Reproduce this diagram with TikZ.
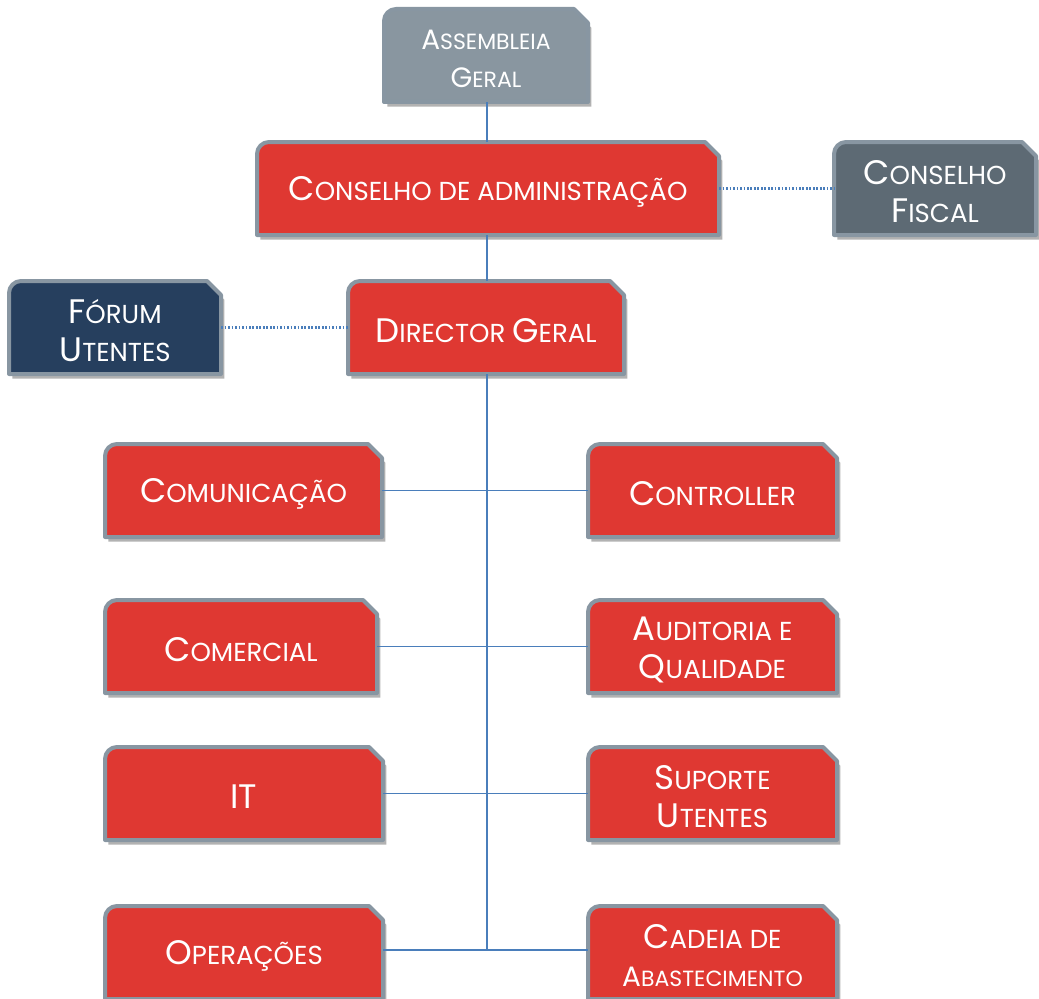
\documentclass[tikz,border=0pt]{standalone}
\usepackage{fontspec}
\setmainfont{Poppins}
\usetikzlibrary{shadows}

\definecolor{boxred}{HTML}{DF3832}
\definecolor{boxedge}{HTML}{8896A2}
\definecolor{agray}{HTML}{8996A0}
\definecolor{fgray}{HTML}{5D6A74}
\definecolor{navy}{HTML}{263F5E}
\definecolor{linkblue}{HTML}{4A7EBB}

% small-caps imitation: large initial, smaller remainder
\newcommand\sct[2]{{\fontsize{25.5}{28.5}\selectfont #1}{\fontsize{19.5}{28.5}\selectfont #2}}
\newcommand\scs[2]{{\fontsize{21}{24}\selectfont #1}{\fontsize{16.5}{24}\selectfont #2}}

% box outline: rounded top-left, clipped top-right; the node is the box,
% its caption sits slightly below the geometric centre
\newcommand\orgbox[7]{%
  \path[boxshape, fill=#6] (#2,#5) [rounded corners=9pt] -- (#2,#3) [sharp corners]
     -- ({#4-14},#3) -- (#4,{#3+14}) -- (#4,#5) -- cycle;
  \node[inner sep=0pt, minimum width={(#4-#2)*0.75pt}, minimum height={(#5-#3)*0.75pt},
     label={[boxtext]center:#7}]
     (#1) at ({(#2+#4)/2},{(#3+#5)/2}) {};
}

\tikzset{
  boxshape/.style={draw=boxedge, line width=3pt, line join=round,
    drop shadow={shadow xshift=2.5pt, shadow yshift=-3.5pt, opacity=0.3, fill=black}},
  boxtext/.style={text=white, align=center, inner sep=0pt, yshift=-2.5pt,
    font=\fontsize{19.5}{28.5}\selectfont},
  conn/.style={draw=linkblue, line width=1.4pt},
  dotconn/.style={draw=linkblue, line width=1.8pt, dash pattern=on 1.3pt off 1.3pt},
}

\begin{document}
\begin{tikzpicture}[x=0.75pt, y=-0.75pt]
\useasboundingbox (0,0) rectangle (1039,999);

\orgbox{ag}{384}{9}{588}{102}{agray}{\scs{A}{SSEMBLEIA}\\\scs{G}{ERAL}}
\orgbox{cga}{257}{142}{719}{235}{boxred}{\sct{C}{ONSELHO DE ADMINISTRAÇÃO}}
\orgbox{cf}{834}{142}{1036}{235}{fgray}{\sct{C}{ONSELHO}\\\sct{F}{ISCAL}}
\orgbox{fu}{9}{281}{221}{374}{navy}{\sct{F}{ÓRUM}\\\sct{U}{TENTES}}
\orgbox{dg}{348}{281}{624}{374}{boxred}{\sct{D}{IRECTOR} \sct{G}{ERAL}}

\orgbox{com}{105}{444}{382}{537}{boxred}{\sct{C}{OMUNICAÇÃO}}
\orgbox{ctl}{588}{444}{837}{537}{boxred}{\sct{C}{ONTROLLER}}
\orgbox{cml}{105}{600}{377}{693}{boxred}{\sct{C}{OMERCIAL}}
\orgbox{aud}{588}{600}{837}{693}{boxred}{\sct{A}{UDITORIA E}\\\sct{Q}{UALIDADE}}
\orgbox{it}{105}{747}{383}{840}{boxred}{\sct{IT}{}}
\orgbox{sup}{588}{747}{837}{840}{boxred}{\sct{S}{UPORTE}\\\sct{U}{TENTES}}
\orgbox{ops}{105}{906}{383}{999}{boxred}{\sct{O}{PERAÇÕES}}
\orgbox{cad}{588}{906}{837}{999}{boxred}{\sct{C}{ADEIA DE}\\\scs{A}{BASTECIMENTO}}

% reporting lines
\coordinate (spineend) at (487,950);
\draw[conn] (ag.south -| 487,0) -- (cga.north -| 487,0);
\draw[conn] (cga.south -| 487,0) -- (dg.north -| 487,0);
\draw[conn] (dg.south -| 487,0) -- (spineend);
\draw[conn] (com.east) -- (ctl.west);
\draw[conn] (cml.east) -- (aud.west);
\draw[conn] (it.east) -- (sup.west);
\draw[conn] (ops.east |- spineend) -- (cad.west |- spineend);

% advisory links
\draw[dotconn] (cga.east) -- (cf.west);
\draw[dotconn] (fu.east) -- (dg.west);
\end{tikzpicture}
\end{document}
